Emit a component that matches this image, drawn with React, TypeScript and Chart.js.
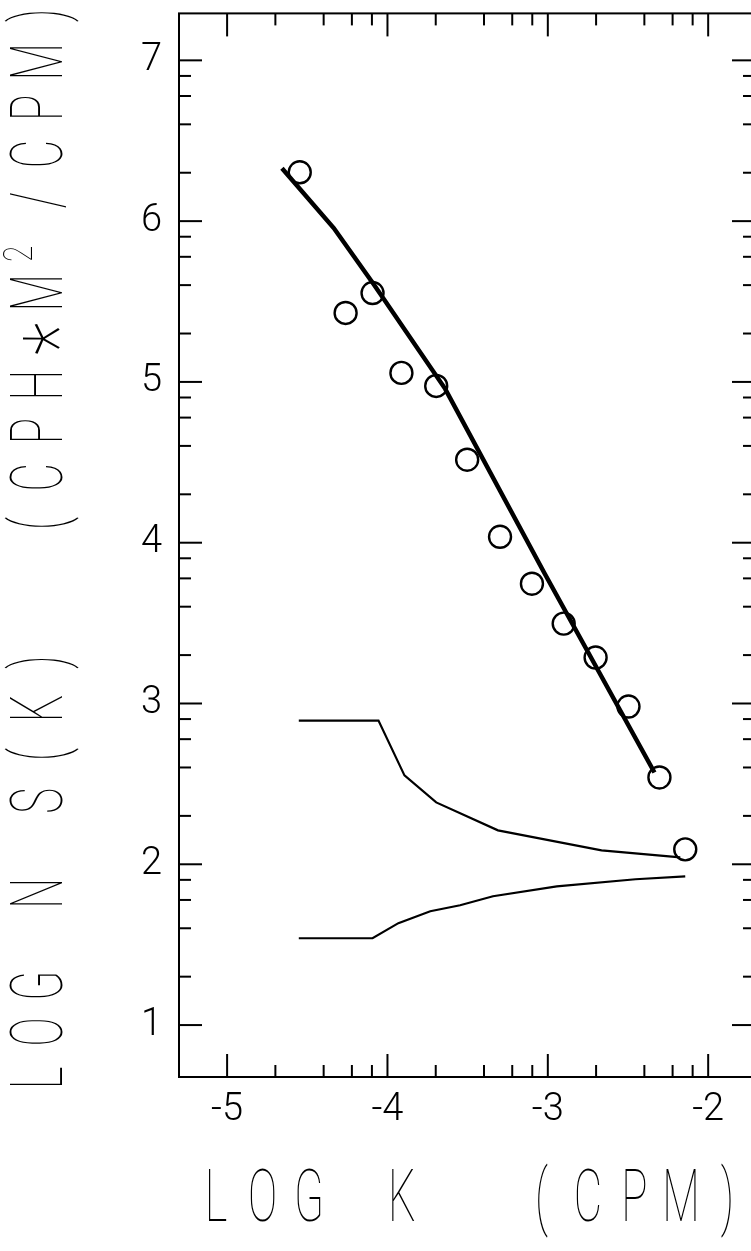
import React, { useEffect, useRef } from "react";
import { Chart, registerables } from "chart.js";

Chart.register(...registerables);

// ---- data -------------------------------------------------------------
const xTickValues = [-5, -4, -3, -2];
const xTickLabels = ["-5", "-4", "-3", "-2"];
const yTickValues = [1, 2, 3, 4, 5, 6, 7];
const yTickLabels = ["1", "2", "3", "4", "5", "6", "7"];
const minorSteps = [2, 4, 6, 8];

const xTitle = "LOG K  (CPM)";
const yTitle = "LOG N S(K)  (CPH*M²/CPM)";

// observed points (open circles)
const obsLogK = [-4.547, -4.261, -4.093, -3.913, -3.696, -3.503, -3.298, -3.099, -2.901, -2.702, -2.497, -2.304, -2.143];
const obsLogNS = [6.304, 5.429, 5.553, 5.056, 4.975, 4.516, 4.037, 3.745, 3.497, 3.286, 2.981, 2.540, 2.093];

// thick fitted curve
const fitLogK = [-4.658, -4.335, -4.087, -3.640, -3.019, -2.335];
const fitLogNS = [6.329, 5.957, 5.609, 4.957, 3.807, 2.571];

// upper thin curve
const upperLogK = [-4.553, -4.056, -3.894, -3.696, -3.311, -2.665, -2.174];
const upperLogNS = [2.894, 2.894, 2.553, 2.385, 2.211, 2.087, 2.043];

// lower thin curve
const lowerLogK = [-4.553, -4.093, -3.932, -3.733, -3.547, -3.342, -2.944, -2.453, -2.143];
const lowerLogNS = [1.540, 1.540, 1.634, 1.708, 1.745, 1.801, 1.863, 1.907, 1.925];

const X_MIN = -5.3;
const X_MAX = -1.708;
const Y_MIN = 0.677;
const Y_MAX = 7.292;

const toPts = (xs: number[], ys: number[]) => xs.map((x, i) => ({ x, y: ys[i] }));

const TITLE_FONT = "100 73px Roboto";

function drawMono(
  ctx: CanvasRenderingContext2D,
  text: string,
  firstCenter: number,
  pitch: number,
  scaleX: number
) {
  const chars = Array.from(text);
  chars.forEach((ch, i) => {
    const cx = firstCenter + i * pitch;
    ctx.save();
    ctx.translate(cx, 0);
    if (ch === "²") {
      ctx.font = "100 40px Roboto";
      ctx.scale(0.75, 1);
      ctx.fillText("2", -10, -30);
    } else if (ch === "*") {
      ctx.font = "100 95px Roboto";
      ctx.scale(0.8, 1);
      ctx.fillText("*", 0, 28);
    } else {
      ctx.font = TITLE_FONT;
      ctx.scale(scaleX, 1);
      ctx.fillText(ch, 0, 0);
    }
    ctx.restore();
  });
}

const framePlugin = {
  id: "framePlugin",
  beforeDatasetsDraw(chart: any) {
    const { ctx, chartArea, scales } = chart;
    const { left, right, top, bottom } = chartArea;
    const xs = scales.x;
    const ys = scales.y;
    ctx.save();
    ctx.strokeStyle = "#000";
    ctx.lineWidth = 2;
    ctx.lineCap = "butt";
    ctx.strokeRect(left, top, right - left, bottom - top);

    const major = 23;
    const minor = 12;
    const line = (x1: number, y1: number, x2: number, y2: number) => {
      ctx.beginPath();
      ctx.moveTo(x1, y1);
      ctx.lineTo(x2, y2);
      ctx.stroke();
    };
    const xMinor: number[] = [];
    xTickValues.slice(0, -1).forEach((n) => minorSteps.forEach((k) => xMinor.push(n + Math.log10(k))));
    const yMinor: number[] = [];
    yTickValues.slice(0, -1).forEach((n) => minorSteps.forEach((k) => yMinor.push(n + Math.log10(k))));

    xTickValues.forEach((v) => {
      const p = xs.getPixelForValue(v);
      line(p, bottom, p, bottom - major);
      line(p, top, p, top + major);
    });
    xMinor.forEach((v) => {
      const p = xs.getPixelForValue(v);
      line(p, bottom, p, bottom - minor);
      line(p, top, p, top + minor);
    });
    yTickValues.forEach((v) => {
      const p = ys.getPixelForValue(v);
      line(left, p, left + major, p);
      line(right, p, right - major, p);
    });
    yMinor.forEach((v) => {
      const p = ys.getPixelForValue(v);
      line(left, p, left + minor, p);
      line(right, p, right - minor, p);
    });
    ctx.restore();
  },
  afterDraw(chart: any) {
    const { ctx } = chart;
    ctx.save();
    ctx.fillStyle = "#000";
    ctx.textAlign = "center";
    ctx.textBaseline = "alphabetic";
    // x-axis title
    ctx.save();
    ctx.translate(0, 1221);
    drawMono(ctx, xTitle, 216, 46.5, 0.6);
    ctx.restore();
    // y-axis title (rotated, reading upward)
    ctx.save();
    ctx.translate(62, 0);
    ctx.rotate(-Math.PI / 2);
    drawMono(ctx, yTitle, -1078, 46.2, 0.6);
    ctx.restore();
    ctx.restore();
  },
};

export default function App() {
  const ref = useRef<HTMLCanvasElement | null>(null);

  useEffect(() => {
    if (!ref.current) return;
    const tickFont = { family: "Roboto", size: 38, weight: "300" as any };
    const chart = new Chart(ref.current, {
      type: "scatter",
      data: {
        datasets: [
          {
            data: toPts(fitLogK, fitLogNS),
            showLine: true,
            borderColor: "#000",
            borderWidth: 4.5,
            pointRadius: 0,
            tension: 0,
            fill: false,
          },
          {
            data: toPts(upperLogK, upperLogNS),
            showLine: true,
            borderColor: "#000",
            borderWidth: 2.2,
            pointRadius: 0,
            tension: 0,
            fill: false,
          },
          {
            data: toPts(lowerLogK, lowerLogNS),
            showLine: true,
            borderColor: "#000",
            borderWidth: 2.2,
            pointRadius: 0,
            tension: 0,
            fill: false,
          },
          {
            data: toPts(obsLogK, obsLogNS),
            showLine: false,
            pointStyle: "circle",
            pointRadius: 11,
            pointBorderWidth: 2.4,
            borderColor: "#000",
            pointBackgroundColor: "rgba(0,0,0,0)",
            backgroundColor: "rgba(0,0,0,0)",
          },
        ],
      },
      options: {
        responsive: false,
        animation: false,
        devicePixelRatio: 1,
        layout: { padding: { left: 0, right: 15, top: 12, bottom: 0 } },
        plugins: {
          legend: { display: false },
          tooltip: { enabled: false },
        },
        scales: {
          x: {
            type: "linear",
            position: "bottom",
            min: X_MIN,
            max: X_MAX,
            grid: { display: false, drawTicks: false },
            border: { display: false },
            afterBuildTicks: (s: any) => {
              s.ticks = xTickValues.map((v) => ({ value: v }));
            },
            afterFit: (s: any) => {
              s.height = 174;
              s.paddingLeft = 0;
              s.paddingRight = 0;
            },
            ticks: {
              callback: (_v: any, i: number) => xTickLabels[i],
              font: tickFont,
              color: "#000",
              padding: 11,
              maxRotation: 0,
              autoSkip: false,
            },
          },
          y: {
            type: "linear",
            position: "left",
            min: Y_MIN,
            max: Y_MAX,
            grid: { display: false, drawTicks: false },
            border: { display: false },
            afterBuildTicks: (s: any) => {
              s.ticks = yTickValues.map((v) => ({ value: v }));
            },
            afterFit: (s: any) => {
              s.width = 179;
              s.paddingTop = 0;
              s.paddingBottom = 0;
            },
            ticks: {
              callback: (_v: any, i: number) => yTickLabels[i],
              font: tickFont,
              color: "#000",
              padding: 17,
              autoSkip: false,
            },
          },
        },
      },
      plugins: [framePlugin],
    });
    return () => chart.destroy();
  }, []);

  return (
    <div
      style={{
        position: "fixed",
        left: 0,
        top: 0,
        width: 751,
        height: 1251,
        overflow: "hidden",
        background: "#fff",
      }}
    >
      <canvas ref={ref} width={770} height={1251} style={{ width: 770, height: 1251, display: "block" }} />
    </div>
  );
}
